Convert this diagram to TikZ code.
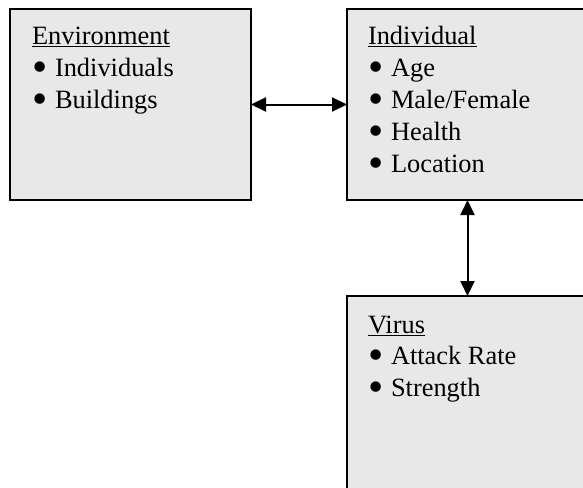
\documentclass[tikz,border=0pt]{standalone}
\usepackage{fontspec}
\usepackage{graphicx}
\setmainfont{Liberation Serif}
\usetikzlibrary{arrows.meta}
\definecolor{boxfill}{RGB}{232,232,232}
\tikzset{
  box/.style={draw=black, line width=1.8pt, fill=boxfill, anchor=north west,
    minimum width=241pt, minimum height=191pt, inner sep=0pt, outer sep=0pt},
  txt/.style={anchor=base west, inner sep=0pt, outer sep=0pt, font=\fontsize{26.4}{32}\selectfont},
  tip/.tip={Triangle[length=15pt,width=14pt]},
  arr/.style={line width=2pt, tip-tip}
}
\newcommand{\bul}[1]{\makebox[23pt][l]{\smash{\raisebox{-5.5pt}{\scalebox{1.65}{\textbullet}}}}#1}
\begin{document}
\begin{tikzpicture}[x=1pt,y=-1pt]
\useasboundingbox (0,0) rectangle (583,487);
\clip (0,0) rectangle (583,487);
\node[box] (env) at (10,9) {};
\node[box] (ind) at (347,9) {};
\node[box, minimum height=195pt] (vir) at (347,296) {};
% Environment
\node[txt] (envt) at (32,45) {\underline{Environment}};
\node[txt] (env1) at (32,76) {\bul{Individuals}};
\node[txt] (env2) at (32,108) {\bul{Buildings}};
% Individual
\node[txt] (indt) at (368,45) {\underline{Individual}};
\node[txt] (ind1) at (368,76) {\bul{Age}};
\node[txt] (ind2) at (368,108) {\bul{Male/Female}};
\node[txt] (ind3) at (368,140) {\bul{Health}};
\node[txt] (ind4) at (368,172) {\bul{Location}};
% Virus
\node[txt] (virt) at (368,333) {\underline{Virus}};
\node[txt] (vir1) at (368,364) {\bul{Attack Rate}};
\node[txt] (vir2) at (368,396) {\bul{Strength}};
% connectors
\draw[arr] (env.east) -- (ind.west);
\draw[arr] (ind.south) -- (ind.south |- vir.north);
\end{tikzpicture}
\end{document}
